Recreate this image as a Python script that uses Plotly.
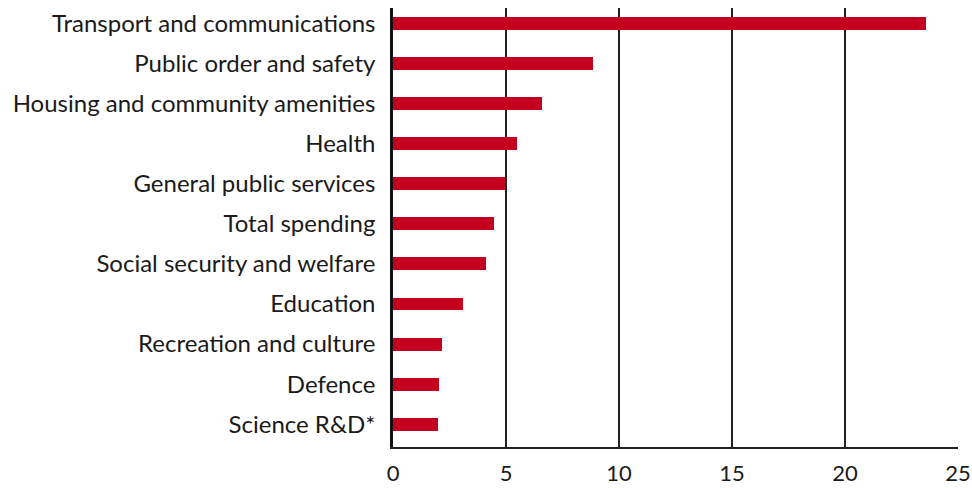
import plotly.graph_objects as go

categories = [
    "Transport and communications",
    "Public order and safety",
    "Housing and community amenities",
    "Health",
    "General public services",
    "Total spending",
    "Social security and welfare",
    "Education",
    "Recreation and culture",
    "Defence",
    "Science R&D*",
]
values = [23.57, 8.83, 6.59, 5.48, 4.95, 4.47, 4.11, 3.10, 2.17, 2.03, 1.99]
x_ticks = [0, 5, 10, 15, 20, 25]

fig = go.Figure(go.Bar(
    x=values, y=categories, orientation="h",
    marker=dict(color="#C4001E", line=dict(width=0)),
    width=0.324,
))

fig.update_layout(
    width=972, height=488,
    margin=dict(l=393, r=14, t=8, b=41, autoexpand=False),
    paper_bgcolor="white", plot_bgcolor="white",
    showlegend=False,
    font=dict(family="Lato", size=24, color="#1a1a1a"),
    bargap=0,
)
fig.update_xaxes(
    range=[0, 25], tickvals=x_ticks, ticktext=[str(t) for t in x_ticks],
    showgrid=True, gridcolor="#222222", gridwidth=1.6,
    showline=True, linecolor="#222222", linewidth=1.6,
    zeroline=False, ticks="outside", ticklen=6, tickcolor="rgba(0,0,0,0)",
    automargin=False,
    tickfont=dict(family="Lato", size=22, color="#1a1a1a"),
)
fig.update_yaxes(
    type="category", categoryorder="array", categoryarray=categories,
    range=[10.57, -0.39], automargin=False,
    showgrid=False, zeroline=False,
    showline=True, linecolor="#111111", linewidth=2.5,
    ticks="outside", ticklen=10, tickcolor="rgba(0,0,0,0)",
    tickfont=dict(family="Lato", size=24, color="#1a1a1a"),
)

fig.write_html("out.html")
